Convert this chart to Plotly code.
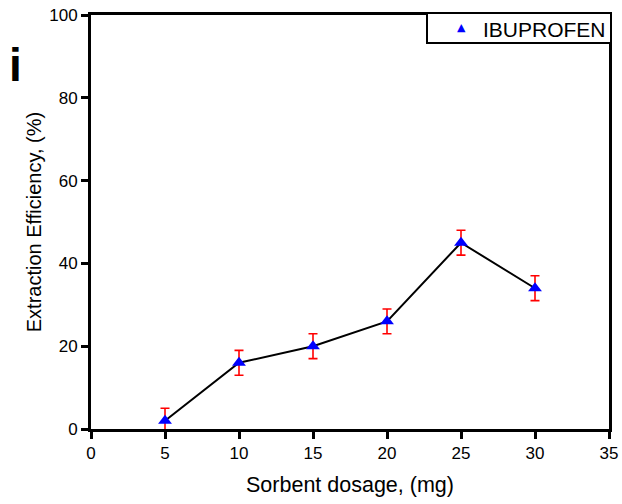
import plotly.graph_objects as go

dosage = [5, 10, 15, 20, 25, 30]
efficiency = [2, 16, 20, 26, 45, 34]
errors = [3, 3, 3, 3, 3, 3]
series_name = "IBUPROFEN"
x_ticks = [0, 5, 10, 15, 20, 25, 30, 35]
y_ticks = [0, 20, 40, 60, 80, 100]

FONT = "Arial, Liberation Sans, sans-serif"

# plot area in pixels (for placing decorations)
L, R, T, B = 91, 13, 15, 75
W, H = 622, 504
pw, ph = W - L - R, H - T - B


def px(x):
    return (x - L) / pw


def py(y):
    return (H - B - y) / ph


fig = go.Figure()
fig.add_trace(go.Scatter(
    x=dosage, y=efficiency, mode="lines+markers", name=series_name,
    line=dict(color="black", width=2),
    marker=dict(symbol="triangle-up", size=12, color="#0000FF"),
    error_y=dict(type="data", array=errors, visible=True, color="#FF0000",
                 thickness=1.6, width=4.5),
    showlegend=False,
))

axis_common = dict(
    showline=True, linecolor="black", linewidth=3, mirror=True,
    ticks="outside", ticklen=7, tickwidth=3, tickcolor="black",
    showgrid=False, zeroline=False, automargin=False,
    tickfont=dict(family=FONT, size=17, color="black"),
)
fig.update_xaxes(range=[0, 35], tickvals=x_ticks,
                 title=dict(text="Sorbent dosage, (mg)", font=dict(family=FONT, size=21.5, color="black"), standoff=15),
                 **axis_common)
fig.update_yaxes(range=[0, 100], tickvals=y_ticks,
                 title=dict(text="Extraction Efficiency, (%)", font=dict(family=FONT, size=20, color="black"), standoff=3),
                 **axis_common)

# panel label
fig.add_annotation(text="<b>i</b>", xref="paper", yref="paper",
                   x=px(15.5), y=py(93), xanchor="center", yanchor="bottom",
                   showarrow=False, font=dict(family=FONT, size=46, color="black"))

# legend box
fig.add_shape(type="rect", xref="paper", yref="paper",
              x0=px(427), x1=px(611), y0=py(43), y1=py(13),
              line=dict(color="black", width=2), fillcolor="white", layer="above")
fig.add_annotation(text="▲", xref="paper", yref="paper",
                   x=px(461), y=py(27), xanchor="center", yanchor="middle",
                   showarrow=False, font=dict(family="DejaVu Sans", size=11, color="#0000FF"))
fig.add_annotation(text=series_name, xref="paper", yref="paper",
                   x=px(481), y=py(29), xanchor="left", yanchor="middle",
                   showarrow=False, font=dict(family=FONT, size=21, color="black"))

fig.update_layout(
    width=W, height=H,
    margin=dict(l=L, r=R, t=T, b=B, autoexpand=False),
    plot_bgcolor="white", paper_bgcolor="white",
    font=dict(family=FONT, color="black"),
    showlegend=False,
)

fig.write_html("out.html")
